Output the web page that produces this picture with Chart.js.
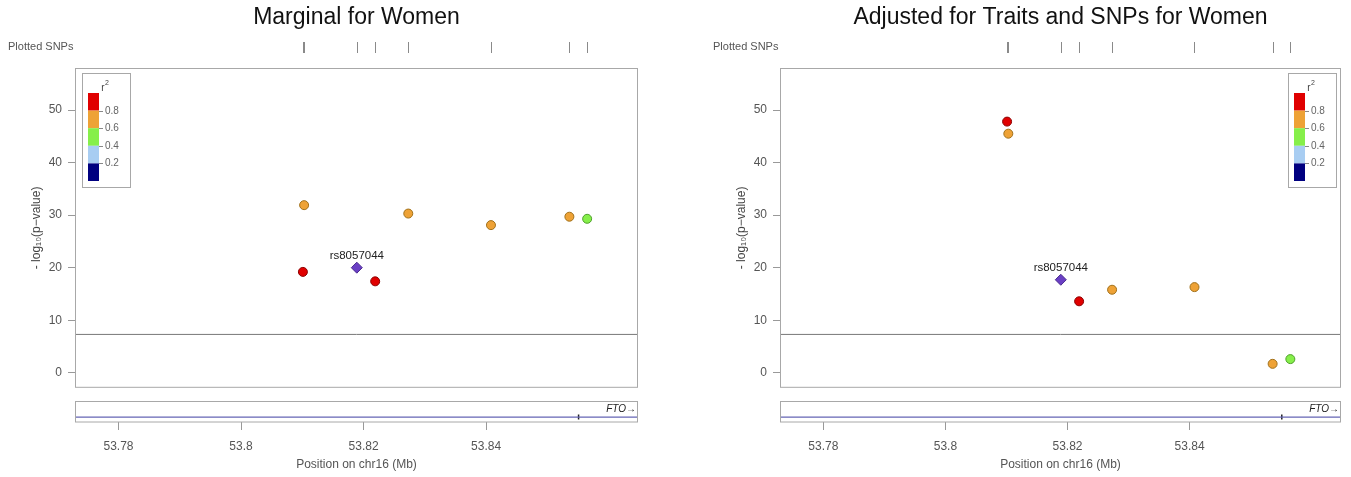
<!DOCTYPE html>
<html>
<head>
<meta charset="utf-8">
<script src="https://cdn.jsdelivr.net/npm/chart.js@4.4.1/dist/chart.umd.min.js"></script>
<style>
  body { margin: 0; background: #fff; }
  #wrap { position: relative; width: 1351px; height: 477px; overflow: hidden; }
  canvas { position: absolute; }
</style>
</head>
<body>
<div id="wrap">
  <canvas id="mainLeft" width="675" height="401" style="left:0;top:0"></canvas>
  <canvas id="geneLeft" width="675" height="82" style="left:0;top:395px"></canvas>
  <canvas id="mainRight" width="646" height="401" style="left:705px;top:0"></canvas>
  <canvas id="geneRight" width="646" height="82" style="left:705px;top:395px"></canvas>
</div>
<script>
// datos de los SNPs (posicion en Mb)
const snpPos = [53.8101, 53.8103, 53.8189, 53.8219, 53.8273, 53.8408, 53.8536, 53.8565];
const snpR2 = [0.9, 0.7, 1, 0.9, 0.7, 0.7, 0.7, 0.5];
const indexSnp = "rs8057044";
const indexPos = 53.8189;
const marginalLogP = [19.2, 31.9, 20.0, 17.4, 30.3, 28.1, 29.7, 29.3];
const adjustedLogP = [47.8, 45.5, 17.7, 13.6, 15.8, 16.3, 1.7, 2.6];

const titulos = ["Marginal for Women", "Adjusted for Traits and SNPs for Women"];
const lineaSignificancia = 7.3;

const xMin = 53.7729, xMax = 53.8648;
const yMin = -2.86, yMax = 58.0;
const xTicks = [53.78, 53.80, 53.82, 53.84];
const xTickLabels = ["53.78", "53.8", "53.82", "53.84"];
const yTicks = [0, 10, 20, 30, 40, 50];

// gen FTO
const geneName = "FTO";
const geneStart = 53.70, geneEnd = 54.16;
const geneExons = [53.8551];

// escala de r2
const r2Cortes = [0.8, 0.6, 0.4, 0.2, 0];
const r2Colores = ["#e00000", "#eea236", "#86ef4a", "#a8cdf2", "#000080"];
const r2Bordes = ["#8c0000", "#a0701a", "#4ea02a", "#6890b8", "#000040"];
const r2Etiquetas = ["0.8", "0.6", "0.4", "0.2"];

const fuente = '"Liberation Sans", Arial, Helvetica, sans-serif';

function colorR2(r2, bordes) {
    for (let i = 0; i < r2Cortes.length; i++) {
        if (r2 > r2Cortes[i]) return bordes ? r2Bordes[i] : r2Colores[i];
    }
    return bordes ? r2Bordes[4] : r2Colores[4];
}

const decorPlugin = {
    id: "decor",
    afterDraw(chart, args, opts) {
        const ctx = chart.ctx;
        const a = chart.chartArea;
        const x = chart.scales.x;
        const y = chart.scales.y;
        ctx.save();

        // caja
        ctx.strokeStyle = "#a8a8a8";
        ctx.lineWidth = 1;
        ctx.strokeRect(Math.round(a.left) + 0.5, Math.round(a.top) + 0.5, a.right - a.left - 1, a.bottom - a.top - 1);

        // titulo
        ctx.fillStyle = "#111";
        ctx.font = "23px " + fuente;
        ctx.textAlign = "center";
        ctx.textBaseline = "middle";
        ctx.fillText(opts.titulo, (a.left + a.right) / 2, 18);

        // Plotted SNPs
        ctx.font = "11px " + fuente;
        ctx.fillStyle = "#555";
        ctx.textAlign = "left";
        ctx.fillText("Plotted SNPs", 8, 47);
        ctx.strokeStyle = "#8a8a8a";
        snpPos.forEach(p => {
            const px = Math.round(x.getPixelForValue(p)) + 0.5;
            ctx.beginPath();
            ctx.moveTo(px, 42);
            ctx.lineTo(px, 53);
            ctx.stroke();
        });

        // leyenda r2
        const lx = opts.leyendaDerecha ? a.right - 53 : a.left + 7;
        const ly = a.top + 5;
        ctx.strokeStyle = "#a8a8a8";
        ctx.strokeRect(Math.round(lx) + 0.5, ly + 0.5, 48, 114);
        ctx.fillStyle = "#444";
        ctx.font = "10px " + fuente;
        ctx.textAlign = "center";
        ctx.fillText("r", lx + 21, ly + 15);
        ctx.font = "7px " + fuente;
        ctx.fillText("2", lx + 25, ly + 10);
        const bx = lx + 6, by = ly + 20, bw = 11, bh = 17.6;
        r2Colores.forEach((c, i) => {
            ctx.fillStyle = c;
            ctx.fillRect(bx, by + i * bh, bw, bh);
        });
        ctx.font = "10px " + fuente;
        ctx.fillStyle = "#666";
        ctx.textAlign = "left";
        ctx.strokeStyle = "#888";
        r2Etiquetas.forEach((t, i) => {
            const ty = Math.round(by + (i + 1) * bh) + 0.5;
            ctx.beginPath();
            ctx.moveTo(bx + bw, ty);
            ctx.lineTo(bx + bw + 4, ty);
            ctx.stroke();
            ctx.fillText(t, bx + bw + 6, ty);
        });

        // etiqueta del SNP indice
        const ip = snpPos.indexOf(indexPos);
        const vals = chart.data.datasets[1].data;
        ctx.font = "11.5px " + fuente;
        ctx.fillStyle = "#222";
        ctx.textAlign = "center";
        ctx.fillText(indexSnp, x.getPixelForValue(indexPos), y.getPixelForValue(vals[ip].y) - 12);
        ctx.restore();
    }
};

const genePlugin = {
    id: "geneDecor",
    afterDraw(chart) {
        const ctx = chart.ctx;
        const a = chart.chartArea;
        ctx.save();
        ctx.strokeStyle = "#a8a8a8";
        ctx.lineWidth = 1;
        ctx.strokeRect(Math.round(a.left) + 0.5, Math.round(a.top) + 0.5, a.right - a.left - 1, a.bottom - a.top - 1);
        ctx.fillStyle = "#222";
        ctx.font = "italic 10px " + fuente;
        ctx.textAlign = "right";
        ctx.textBaseline = "middle";
        ctx.fillText(geneName + "\u2192", a.right - 2, a.top + 9);
        ctx.restore();
    }
};

function crearPrincipal(id, valores, titulo, padRight, leyendaDerecha) {
    const puntos = snpPos.map((p, i) => ({ x: p, y: valores[i] }));
    const esIndice = snpPos.map(p => p === indexPos);
    new Chart(document.getElementById(id), {
        type: "scatter",
        data: {
            datasets: [
                {
                    type: "line",
                    data: [{ x: xMin, y: lineaSignificancia }, { x: xMax, y: lineaSignificancia }],
                    borderColor: "#777",
                    borderWidth: 1,
                    pointRadius: 0
                },
                {
                    data: puntos,
                    pointStyle: esIndice.map(e => e ? "rectRot" : "circle"),
                    pointRadius: esIndice.map(e => e ? 5.5 : 4.5),
                    pointBackgroundColor: snpPos.map((p, i) => esIndice[i] ? "#6a3fc4" : colorR2(snpR2[i], false)),
                    pointBorderColor: snpPos.map((p, i) => esIndice[i] ? "#4a2a90" : colorR2(snpR2[i], true)),
                    pointBorderWidth: 1
                }
            ]
        },
        options: {
            responsive: false,
            animation: false,
            devicePixelRatio: 1,
            layout: { padding: { left: 0, top: 68, right: padRight, bottom: 2 } },
            plugins: {
                legend: { display: false },
                tooltip: { enabled: false },
                decor: { titulo: titulo, leyendaDerecha: leyendaDerecha }
            },
            scales: {
                x: { type: "linear", min: xMin, max: xMax, display: false },
                y: {
                    type: "linear",
                    min: yMin,
                    max: yMax,
                    afterBuildTicks: s => { s.ticks = yTicks.map(v => ({ value: v })); },
                    afterFit: s => { s.width = 75; },
                    grid: { drawOnChartArea: false, drawTicks: true, tickLength: 7, color: "#999" },
                    border: { display: false },
                    ticks: { color: "#555", font: { size: 12, family: fuente }, padding: 6 },
                    title: {
                        display: true,
                        text: "- log\u2081\u2080(p\u2212value)",
                        color: "#444",
                        font: { size: 12, family: fuente },
                        padding: { top: 29, bottom: 4 }
                    }
                }
            }
        },
        plugins: [decorPlugin]
    });
}

function crearGen(id, padRight) {
    new Chart(document.getElementById(id), {
        type: "scatter",
        data: {
            datasets: [
                {
                    type: "line",
                    data: [{ x: geneStart, y: 0.23 }, { x: geneEnd, y: 0.23 }],
                    borderColor: "#6464b4",
                    borderWidth: 1.2,
                    pointRadius: 0
                },
                {
                    data: geneExons.map(e => ({ x: e, y: 0.23 })),
                    pointStyle: "line",
                    rotation: 90,
                    pointRadius: 2.5,
                    borderColor: "#222",
                    pointBorderWidth: 1.5
                }
            ]
        },
        options: {
            responsive: false,
            animation: false,
            devicePixelRatio: 1,
            layout: { padding: { left: 75, top: 5, right: padRight, bottom: 0 } },
            plugins: { legend: { display: false }, tooltip: { enabled: false } },
            scales: {
                x: {
                    type: "linear",
                    min: xMin,
                    max: xMax,
                    afterBuildTicks: s => { s.ticks = xTicks.map(v => ({ value: v })); },
                    afterFit: s => { s.height = 55; },
                    grid: { drawOnChartArea: false, drawTicks: true, tickLength: 8, color: "#999" },
                    border: { display: false },
                    ticks: {
                        color: "#555",
                        font: { size: 12, family: fuente },
                        padding: 9,
                        maxRotation: 0,
                        callback: (v, i) => xTickLabels[i]
                    },
                    title: {
                        display: true,
                        text: "Position on chr16 (Mb)",
                        color: "#555",
                        font: { size: 12, family: fuente },
                        padding: { top: 0, bottom: 5 }
                    }
                },
                y: { type: "linear", min: 0, max: 1, display: false }
            }
        },
        plugins: [genePlugin]
    });
}

crearPrincipal("mainLeft", marginalLogP, titulos[0], 37, false);
crearGen("geneLeft", 37);
crearPrincipal("mainRight", adjustedLogP, titulos[1], 10, true);
crearGen("geneRight", 10);
</script>
</body>
</html>
